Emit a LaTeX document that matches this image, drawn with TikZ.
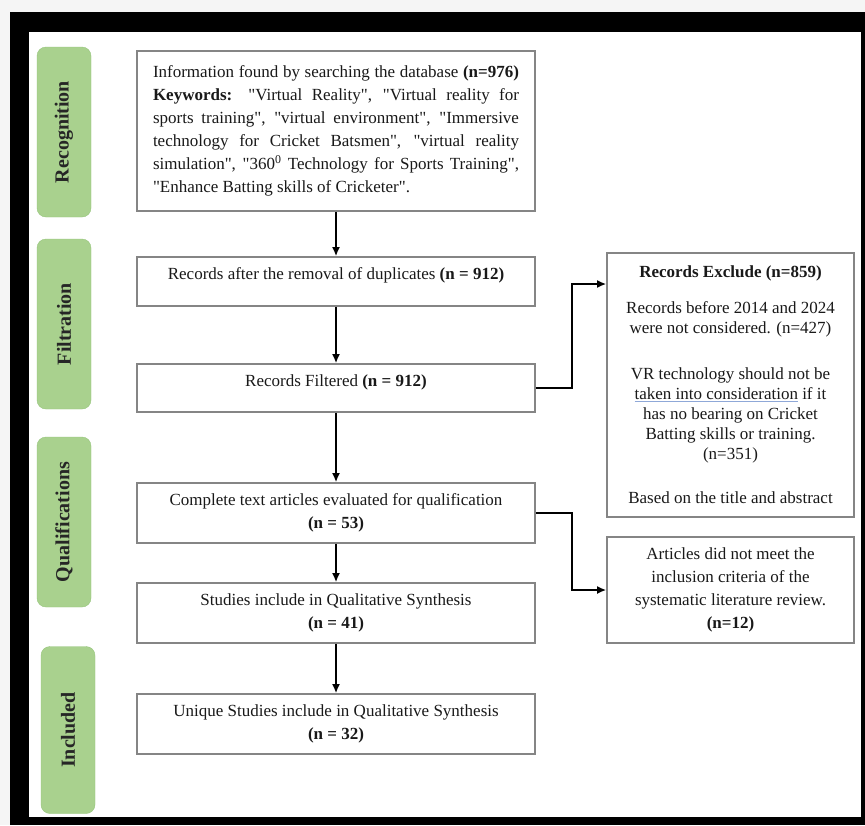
\documentclass[tikz,border=0pt]{standalone}
\usepackage{fontspec}
\setmainfont{Liberation Serif}[Ligatures=TeXOff]
\usetikzlibrary{arrows.meta}
\definecolor{stagegreen}{HTML}{A9D18E}
\definecolor{stageedge}{HTML}{96C57C}
\definecolor{boxline}{HTML}{858585}
\definecolor{wavyblue}{HTML}{8FA8D8}
\tikzset{
  box/.style={draw=boxline, line width=1.6pt, fill=white, inner sep=0pt, minimum width=398pt, align=center, text=black!90, font=\fontsize{17}{23}\selectfont},
  sidebox/.style={box, minimum width=247pt, font=\fontsize{17}{20}\selectfont},
  lifted/.style={text depth=15pt},
  stage/.style={draw=stageedge, fill=stagegreen, rounded corners=9pt, rotate=90, minimum width=170pt, minimum height=54pt, inner sep=0pt, text=black!85, font=\fontsize{20}{24}\selectfont\bfseries},
  arr/.style={line width=1.8pt, -{Latex[length=9pt, width=8pt]}}
}
\begin{document}
\begin{tikzpicture}[x=1pt, y=-1pt]
  \useasboundingbox (0,0) rectangle (865,825);
  \fill[gray!8] (0,0) rectangle (865,825);
  \fill[black] (10,12) rectangle (865,825);
  \fill[white] (29,32) rectangle (861,817);

  \node [stage] (recog) at (64,132) {Recognition};
  \node [stage] (filt) at (64,324) {Filtration};
  \node [stage] (qual) at (64,522) {Qualifications};
  \node [stage, minimum width=167pt] (incl) at (68,730) {Included};

  \node [box, text width=366pt, inner xsep=16pt, align=justify, minimum height=160pt] (found) at (336,131)
    {Information found by searching the database \textbf{(n=976)}\linebreak
     \textbf{Keywords:} "Virtual Reality", "Virtual reality for\linebreak
     sports training", "virtual environment", "Immersive\linebreak
     technology for Cricket Batsmen", "virtual reality\linebreak
     simulation", "360\textsuperscript{0} Technology for Sports Training",\linebreak
     "Enhance Batting skills of Cricketer".};
  \node [box, lifted, minimum height=49pt] (dup) at (336,281.5)
    {Records after the removal of duplicates \textbf{(n = 912)}};
  \node [box, lifted, minimum height=48pt] (filtered) at (336,388)
    {Records Filtered \textbf{(n = 912)}};
  \node [box, minimum height=60pt] (full) at (336,513)
    {Complete text articles evaluated for qualification\\\textbf{(n = 53)}};
  \node [box, minimum height=60pt] (studies) at (336,613)
    {Studies include in Qualitative Synthesis\\\textbf{(n = 41)}};
  \node [box, minimum height=60pt] (unique) at (336,724)
    {Unique Studies include in Qualitative Synthesis\\\textbf{(n = 32)}};

  \node [sidebox, minimum height=264pt] (excl) at (730.5,385)
    {\textbf{Records Exclude (n=859)}\\[16pt]
     Records before 2014 and 2024\\were not considered. (n=427)\\[26pt]
     VR technology should not be\\
     {\color{wavyblue}\underline{\color{black!90}taken into consideration}} if it\\
     has no bearing on Cricket\\Batting skills or training.\\(n=351)\\[24pt]
     Based on the title and abstract};
  \node [sidebox, minimum height=106pt, font=\fontsize{17}{23}\selectfont] (artic) at (730.5,590)
    {Articles did not meet the\\inclusion criteria of the\\systematic literature review.\\\textbf{(n=12)}};

  \draw [arr] (found) -- (dup);
  \draw [arr] (dup) -- (filtered);
  \draw [arr] (filtered) -- (full);
  \draw [arr] (full) -- (studies);
  \draw [arr] (studies) -- (unique);
  \draw [arr] (filtered.east) -- ++(36,0) |- ([yshift=101pt]excl.west);
  \draw [arr] (full.east) -- ++(36,0) |- (artic.west);
\end{tikzpicture}
\end{document}
